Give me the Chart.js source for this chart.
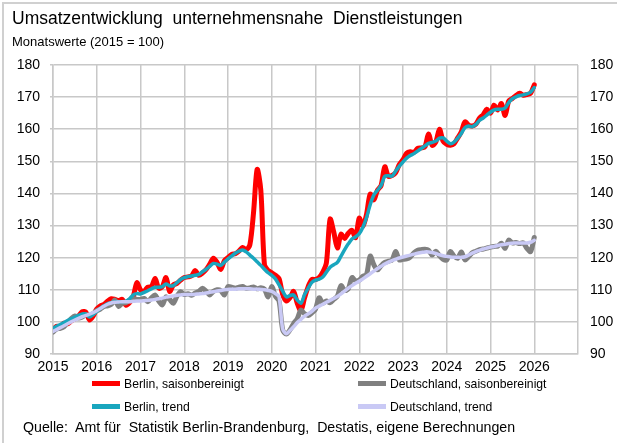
<!DOCTYPE html>
<html>
<head>
<meta charset="utf-8">
<script src="https://cdn.jsdelivr.net/npm/chart.js@4.4.1/dist/chart.umd.min.js"></script>
<style>
  body { margin: 0; background: #fff; font-family: "Liberation Sans", Arial, sans-serif; }
  #wrap { position: relative; width: 617px; height: 443px; overflow: hidden; background: #fff; }
  #frame { position: absolute; left: 2px; top: 2px; width: 640px; height: 460px;
           border-top: 2px solid #d0d0d0; border-left: 2px solid #d0d0d0; }
  canvas { position: absolute; left: 0; top: 0; }
  .txt { position: absolute; white-space: pre; color: #000; line-height: 1; }
  #title { left: 12px; top: 10px; font-size: 17.5px; }
  #subtitle { left: 12px; top: 35px; font-size: 13px; }
  .leg { position: absolute; font-size: 12.2px; line-height: 1; white-space: pre; }
  .leg span { display: inline-block; width: 28px; height: 5px; margin-right: 4px; vertical-align: middle; position: relative; top: -1px; }
  #source { left: 23px; top: 420px; font-size: 14.2px; }
</style>
</head>
<body>
<div id="wrap">
  <canvas id="chart" width="617" height="443"></canvas>
  <div id="frame"></div>
  <div class="txt" id="title">Umsatzentwicklung  unternehmensnahe  Dienstleistungen</div>
  <div class="txt" id="subtitle">Monatswerte (2015 = 100)</div>
  <div id="legend"></div>
  <div class="txt" id="source">Quelle:  Amt für  Statistik Berlin-Brandenburg,  Destatis, eigene Berechnungen</div>
</div>
<script>
// Monthly values, January 2015 to January 2026 (2015 = 100)
const startYear = 2015;
const yearTicks = [2015, 2016, 2017, 2018, 2019, 2020, 2021, 2022, 2023, 2024, 2025, 2026];

const berlinSa = [
  97.5, 98.6, 98.5, 99.6, 99.4, 100.3, 101.0, 101.8, 103.2, 103.0, 100.6, 101.8,
  104.0, 105.0, 105.5, 106.5, 107.2, 107.0, 106.6, 107.0, 105.2, 106.0, 107.8, 112.2,
  110.0, 109.6, 110.8, 111.0, 113.5, 110.5, 111.0, 113.8, 109.5, 111.5, 112.0, 113.0,
  113.8, 114.0, 114.3, 116.0, 114.5, 115.2, 116.3, 118.0, 119.8, 118.5, 116.3, 119.0,
  120.0, 121.0, 121.2, 122.0, 123.2, 122.5, 124.0, 134.0, 147.5, 141.0, 117.8, 116.0,
  115.3, 114.5, 113.5, 108.5, 106.5, 107.5, 109.5, 105.8, 103.5, 107.5, 111.0, 113.2,
  113.2, 113.8, 115.5, 118.5, 132.0, 128.0, 123.0, 127.3, 126.0, 127.6, 128.5, 126.2,
  132.3, 129.8, 133.5, 139.8, 138.0, 141.0, 142.5, 148.3, 145.3, 145.6, 146.5, 149.0,
  150.5, 152.5, 153.0, 152.8, 154.0, 154.2, 154.5, 158.5, 155.0, 156.0, 160.0, 156.3,
  155.3, 155.0, 155.5, 157.3, 159.2, 162.3, 161.3, 161.0, 161.6, 163.5, 164.5, 166.2,
  165.0, 167.5, 166.0, 168.0, 164.3, 168.8, 169.6, 170.5, 171.2, 170.6, 170.8, 171.2,
  173.8
];

const berlinTrend = [
  98.0, 98.6, 99.2, 99.8, 100.4, 101.0, 101.5, 102.0, 102.5, 102.4, 101.5, 102.3,
  103.3, 104.2, 105.0, 105.7, 106.0, 106.2, 106.3, 106.3, 106.5, 107.2, 108.4, 108.8,
  108.7, 109.2, 109.7, 110.3, 110.8, 110.8, 111.0, 111.8, 111.2, 111.3, 112.2, 113.2,
  113.8, 114.1, 114.3, 114.5, 114.8, 115.6, 116.4, 117.3, 118.2, 118.0, 117.6, 118.6,
  119.6, 120.5, 121.4, 122.0, 122.4, 121.8, 120.8, 119.8, 118.7, 117.6, 116.4, 115.3,
  114.5, 113.4, 111.5, 109.6, 107.8, 108.2, 108.4, 106.8, 105.8, 108.5, 110.5, 112.3,
  113.0, 113.3, 114.0, 115.5, 117.0, 117.8, 118.5, 120.5, 122.5, 124.3, 125.8, 126.5,
  127.5, 129.5, 132.5, 136.5, 139.5, 141.0, 142.5, 145.3, 145.5, 145.4, 147.0, 148.5,
  149.8, 151.0, 151.8, 152.4, 153.2, 154.0, 154.8, 155.6, 155.9, 156.3, 157.2, 157.3,
  156.3, 155.5, 156.0, 157.2, 158.7, 160.5, 161.0, 160.8, 161.5, 162.8, 163.5, 164.4,
  165.3, 166.0, 166.2, 166.2, 166.6, 168.3, 169.5, 170.1, 170.5, 170.7, 171.0, 171.5,
  173.0
];

const deSa = [
  96.8, 97.8, 98.0, 98.5, 99.8, 101.0, 101.8, 101.2, 101.5, 102.3, 102.0, 102.6,
  103.5, 104.0, 104.8, 105.0, 105.5, 106.8, 104.8, 105.8, 106.0, 106.8, 107.3, 107.0,
  107.0, 107.3, 106.3, 107.5, 108.4, 106.5, 105.3, 107.8, 107.0, 105.8, 108.0, 109.4,
  108.5, 108.8, 108.3, 109.0, 109.5, 110.5, 109.5, 108.4, 109.5, 110.0, 109.8, 108.4,
  111.0, 110.8, 110.5, 110.8, 111.0, 110.5, 110.6, 110.9, 110.3, 110.6, 110.2, 107.8,
  111.0, 108.0, 106.5, 97.5, 96.2, 97.5, 99.5, 101.0, 103.7, 102.5, 102.0, 102.8,
  104.0, 107.5, 105.8, 106.5, 106.0, 107.0, 108.0, 111.3, 109.8, 110.3, 113.8, 112.8,
  113.0, 114.2, 114.8, 120.5, 117.8, 116.2, 117.5, 118.5, 118.9, 119.3, 121.9, 119.3,
  119.5, 119.6, 120.2, 121.5, 122.3, 122.5, 122.6, 122.3, 120.8, 122.0, 120.6, 119.5,
  119.3, 121.9, 120.5, 119.8, 121.8, 119.3, 120.3, 121.5, 122.0, 122.5, 122.7, 123.0,
  123.3, 123.5, 123.6, 124.5, 122.9, 125.5, 124.6, 124.7, 124.4, 124.6, 122.9, 121.9,
  126.3
];

const deTrend = [
  97.0, 97.6, 98.2, 98.8, 99.4, 100.0, 100.6, 101.1, 101.6, 102.0, 102.4, 102.9,
  103.5, 104.2, 104.9, 105.5, 105.9, 106.1, 106.2, 106.3, 106.3, 106.3, 106.4, 106.5,
  106.5, 106.6, 106.7, 106.8, 107.0, 107.2, 107.4, 107.7, 107.9, 108.1, 108.3, 108.4,
  108.5, 108.5, 108.5, 108.6, 108.7, 108.8, 109.0, 109.2, 109.4, 109.6, 109.8, 110.0,
  110.1, 110.2, 110.2, 110.3, 110.3, 110.3, 110.3, 110.2, 110.2, 110.1, 110.0, 109.8,
  109.5, 108.8, 107.8, 97.8, 96.3, 97.3, 98.5, 99.8, 100.8, 101.8, 102.5, 103.3,
  104.3, 104.9, 105.5, 106.1, 106.7, 107.3, 107.9, 108.7, 109.6, 110.5, 111.3, 112.0,
  112.7, 113.4, 114.2, 115.0, 115.8, 116.6, 117.3, 118.0, 118.6, 119.1, 119.5, 119.9,
  120.2, 120.5, 120.8, 121.1, 121.4, 121.6, 121.8, 121.8, 121.6, 121.3, 120.9, 120.6,
  120.4, 120.2, 120.1, 120.1, 120.1, 120.3, 120.8, 121.4, 121.9, 122.3, 122.7, 123.0,
  123.3, 123.5, 123.8, 124.0, 124.2, 124.4, 124.5, 124.6, 124.6, 124.6, 124.6, 124.8,
  125.4
];

// month index -> position on the year axis
function toPoints(values) {
  return values.map((v, i) => ({ x: startYear + i / 12, y: v }));
}

const gridColor = "#c8c8c8";

// first dataset is drawn on top
const series = [
  { label: "Deutschland, trend", values: deTrend, color: "#c9c9f5", width: 3.5 },
  { label: "Berlin, trend", values: berlinTrend, color: "#19a6be", width: 3.5 },
  { label: "Deutschland, saisonbereinigt", values: deSa, color: "#808080", width: 5 },
  { label: "Berlin, saisonbereinigt", values: berlinSa, color: "#ff0000", width: 5 }
];

new Chart(document.getElementById("chart"), {
  type: "line",
  data: {
    datasets: series.map(s => ({
      label: s.label,
      data: toPoints(s.values),
      borderColor: s.color,
      backgroundColor: s.color,
      borderWidth: s.width,
      pointRadius: 0,
      tension: 0.3,
      borderJoinStyle: "round",
      borderCapStyle: "round"
    }))
  },
  options: {
    responsive: false,
    devicePixelRatio: 1,
    animation: false,
    layout: { padding: { top: 65, bottom: 67, left: 0, right: 0 } },
    plugins: { legend: { display: false }, tooltip: { enabled: false } },
    scales: {
      x: {
        type: "linear",
        min: 2015,
        max: 2027,
        ticks: {
          stepSize: 1,
          autoSkip: false,
          maxRotation: 0,
          padding: 5,
          color: "#000",
          font: { family: "Liberation Sans", size: 14 },
          callback: v => yearTicks.includes(v) ? String(v) : ""
        },
        grid: { color: gridColor, lineWidth: 1.5, drawTicks: false },
        border: { color: gridColor, width: 1.5 },
        afterFit: s => { s.height = 22; }
      },
      y: {
        position: "left",
        min: 90,
        max: 180,
        ticks: {
          stepSize: 10,
          padding: 10,
          color: "#000",
          font: { family: "Liberation Sans", size: 14 }
        },
        grid: { color: gridColor, lineWidth: 1.5, tickLength: 3 },
        border: { color: gridColor, width: 1.5 },
        afterFit: s => { s.width = 53; }
      },
      y2: {
        position: "right",
        min: 90,
        max: 180,
        ticks: {
          stepSize: 10,
          padding: 12,
          color: "#000",
          font: { family: "Liberation Sans", size: 14 }
        },
        grid: { display: false, drawTicks: false },
        border: { display: false },
        afterFit: s => { s.width = 39; }
      }
    }
  }
});

// legend in two columns below the axis
const legendSpots = {
  "Berlin, saisonbereinigt": [92, 378],
  "Deutschland, saisonbereinigt": [358, 378],
  "Berlin, trend": [92, 401],
  "Deutschland, trend": [358, 401]
};
const legendDiv = document.getElementById("legend");
series.forEach(s => {
  const [lx, ly] = legendSpots[s.label];
  const item = document.createElement("div");
  item.className = "leg";
  item.style.left = lx + "px";
  item.style.top = ly + "px";
  item.innerHTML = `<span style="background:${s.color}"></span>${s.label}`;
  legendDiv.appendChild(item);
});
</script>
</body>
</html>
